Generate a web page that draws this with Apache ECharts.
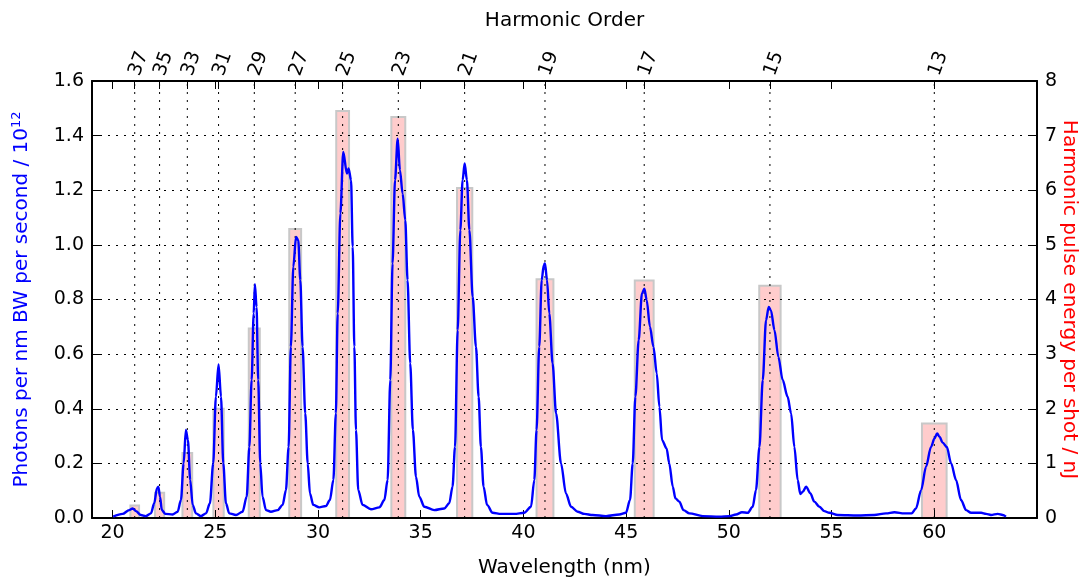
<!DOCTYPE html>
<html><head><meta charset="utf-8">
<script src="https://cdn.jsdelivr.net/npm/echarts@6/dist/echarts.min.js"></script>
<style>html,body{margin:0;padding:0;background:#fff}#c{width:1081px;height:578px}</style>
</head><body><div id="c"></div>
<script>
const wavelengthTicks = [20, 25, 30, 35, 40, 45, 50, 55, 60];
const harmonicOrders = [37, 35, 33, 31, 29, 27, 25, 23, 21, 19, 17, 15, 13];
const harmonicWavelengths = [21.08, 22.29, 23.64, 25.16, 26.90, 28.89, 31.20, 33.91, 37.14, 41.05, 45.88, 52.00, 60.00];
const pulseEnergy = [0.23, 0.46, 1.19, 2.0, 3.47, 5.29, 7.45, 7.34, 6.04, 4.37, 4.35, 4.25, 1.73];

const spectrumWavelength = [
20.03,20.49,20.81,20.98,21.14,21.38,21.62,21.87,22.03,22.16,22.23,22.31,22.40,22.57,22.92,23.17,23.33,23.46,23.57,23.67,
23.78,23.90,24.06,24.30,24.55,24.74,24.90,25.03,25.16,25.28,25.39,25.52,25.68,26.01,26.33,26.53,26.66,26.77,26.87,26.93,
27.01,27.09,27.19,27.30,27.47,27.71,28.04,28.28,28.44,28.57,28.68,28.80,28.93,29.04,29.14,29.25,29.38,29.50,29.61,29.77,
30.06,30.39,30.58,30.75,30.87,30.96,31.09,31.23,31.41,31.49,31.61,31.69,31.77,31.85,31.96,32.17,32.58,32.99,33.23,33.39,
33.52,33.63,33.75,33.88,33.99,34.12,34.25,34.36,34.49,34.62,34.77,34.93,35.18,35.66,36.15,36.39,36.55,36.67,36.80,36.93,
37.04,37.14,37.25,37.37,37.53,37.69,37.82,37.93,38.06,38.23,38.50,38.91,39.56,40.04,40.37,40.53,40.64,40.77,40.89,40.99,
41.05,41.15,41.26,41.42,41.59,41.83,42.07,42.32,42.64,42.97,43.37,44.02,44.67,44.99,45.19,45.32,45.45,45.61,45.77,45.89,
46.00,46.16,46.33,46.49,46.62,46.75,46.97,47.10,47.27,47.40,47.59,47.79,48.08,48.73,49.54,50.02,50.35,50.64,50.92,51.16,
51.32,51.49,51.65,51.81,51.94,52.05,52.22,52.41,52.62,52.86,53.03,53.19,53.35,53.48,53.60,53.76,53.97,54.16,54.41,54.65,
54.89,55.30,56.27,57.08,57.65,58.06,58.54,58.90,59.11,59.36,59.60,59.84,60.01,60.14,60.25,60.41,60.61,60.82,61.06,61.30,
61.55,61.79,62.28,62.52,62.76,63.09,63.33,63.49
];
const spectrumPhotons = [
0.005,0.015,0.029,0.035,0.025,0.011,0.007,0.017,0.054,0.108,0.115,0.078,0.029,0.015,0.013,0.023,0.066,0.200,0.322,0.285,
0.139,0.048,0.017,0.007,0.017,0.054,0.200,0.444,0.562,0.444,0.200,0.054,0.017,0.011,0.023,0.078,0.260,0.505,0.749,0.856,
0.773,0.505,0.200,0.078,0.029,0.023,0.029,0.048,0.102,0.260,0.627,0.920,1.029,1.017,0.871,0.627,0.383,0.200,0.090,0.048,
0.039,0.044,0.066,0.139,0.383,0.749,1.115,1.340,1.261,1.280,1.237,0.993,0.627,0.322,0.102,0.048,0.032,0.039,0.066,0.139,
0.505,0.932,1.237,1.389,1.273,1.188,1.090,0.871,0.566,0.322,0.151,0.078,0.041,0.029,0.035,0.054,0.115,0.260,0.688,1.054,
1.237,1.298,1.237,1.054,0.810,0.627,0.444,0.260,0.115,0.048,0.019,0.015,0.015,0.019,0.041,0.139,0.322,0.627,0.871,0.926,
0.932,0.871,0.749,0.566,0.383,0.200,0.090,0.041,0.023,0.015,0.011,0.007,0.013,0.019,0.066,0.200,0.444,0.651,0.822,0.840,
0.798,0.700,0.627,0.529,0.407,0.285,0.255,0.200,0.115,0.072,0.060,0.029,0.017,0.007,0.005,0.007,0.013,0.021,0.019,0.041,
0.102,0.260,0.505,0.724,0.773,0.760,0.688,0.590,0.505,0.444,0.383,0.260,0.139,0.088,0.096,0.115,0.090,0.060,0.041,0.025,
0.019,0.011,0.009,0.011,0.017,0.021,0.017,0.017,0.035,0.102,0.188,0.260,0.291,0.310,0.298,0.276,0.260,0.200,0.139,0.066,
0.029,0.019,0.019,0.015,0.011,0.015,0.011,0.005
];

const FONT = 'DejaVu Sans';
const chart = echarts.init(document.getElementById('c'), null, {renderer: 'canvas'});
const dotted = {color: '#000', width: 1, type: [2, 6]};

function harmonicLabel(v) {
  for (let i = 0; i < harmonicWavelengths.length; i++) {
    if (Math.abs(harmonicWavelengths[i] - v) < 1e-6) return String(harmonicOrders[i]);
  }
  return '';
}

chart.setOption({
  animation: false,
  textStyle: {fontFamily: FONT},
  grid: {left: 92, right: 44, top: 81, bottom: 60, containLabel: false, outerBoundsMode: 'none'},
  xAxis: [
    {
      type: 'value', position: 'bottom', min: 19, max: 65, z: 3,
      name: 'Wavelength (nm)', nameLocation: 'middle', nameGap: 40, nameMoveOverlap: false,
      nameTextStyle: {fontSize: 20, color: '#000', fontFamily: FONT},
      axisLine: {onZero: false, lineStyle: {color: '#000', width: 2}},
      axisTick: {inside: true, length: 8, customValues: wavelengthTicks, lineStyle: {color: '#000', width: 1}},
      axisLabel: {customValues: wavelengthTicks, fontSize: 19, color: '#000', margin: 6, fontFamily: FONT},
      splitLine: {show: false}
    },
    {
      type: 'value', position: 'top', min: 19, max: 65, z: 3,
      name: 'Harmonic Order', nameLocation: 'middle', nameGap: 50, nameMoveOverlap: false,
      nameTextStyle: {fontSize: 20, color: '#000', fontFamily: FONT},
      axisLine: {onZero: false, lineStyle: {color: '#000', width: 2}},
      axisTick: {inside: true, length: 8, customValues: wavelengthTicks.concat(harmonicWavelengths), lineStyle: {color: '#000', width: 1}},
      axisLabel: {customValues: harmonicWavelengths, rotate: -70, fontSize: 19, color: '#000', margin: 6, fontFamily: FONT,
        formatter: harmonicLabel},
      splitLine: {show: false}
    }
  ],
  yAxis: [
    {
      type: 'value', position: 'left', min: 0, max: 1.6, interval: 0.2, z: 3,
      name: '{a|Photons per nm BW per second / 10}{b|12}', nameLocation: 'middle', nameGap: 58, nameRotate: 90,
      nameMoveOverlap: false,
      nameTextStyle: {
        fontFamily: FONT,
        rich: {
          a: {fontSize: 20, color: '#0000ff', fontFamily: FONT, lineHeight: 24},
          b: {fontSize: 13, color: '#0000ff', fontFamily: FONT, verticalAlign: 'top', lineHeight: 14}
        }
      },
      axisLine: {onZero: false, lineStyle: {color: '#000', width: 2}},
      axisTick: {inside: true, length: 8, lineStyle: {color: '#000', width: 1}},
      axisLabel: {fontSize: 19, color: '#000', margin: 8, fontFamily: FONT, formatter: v => v.toFixed(1)},
      splitLine: {show: true, lineStyle: dotted}
    },
    {
      type: 'value', position: 'right', min: 0, max: 8, interval: 1, z: 3,
      name: 'Harmonic pulse energy per shot / nJ', nameLocation: 'middle', nameGap: 22, nameRotate: -90,
      nameMoveOverlap: false,
      nameTextStyle: {fontSize: 20, color: '#ff0000', fontFamily: FONT},
      axisLine: {onZero: false, lineStyle: {color: '#000', width: 2}},
      axisTick: {inside: true, length: 8, lineStyle: {color: '#000', width: 1}},
      axisLabel: {fontSize: 19, color: '#000', margin: 8, fontFamily: FONT},
      splitLine: {show: false}
    }
  ],
  series: [
    {
      type: 'custom', name: 'pulse energy', xAxisIndex: 0, yAxisIndex: 1, z: 1, silent: true,
      data: harmonicWavelengths.map((w, i) => [w, pulseEnergy[i]]),
      renderItem: function (params, api) {
        const x = api.value(0), h = api.value(1);
        const w = 0.02 * x;
        const p0 = api.coord([x - w / 2, h]);
        const p1 = api.coord([x + w / 2, 0]);
        return {type: 'rect', shape: {x: p0[0], y: p0[1], width: p1[0] - p0[0], height: p1[1] - p0[1]},
          style: {fill: '#ffcccc', stroke: '#c8c8c8', lineWidth: 2}};
      }
    },
    {
      type: 'custom', name: 'harmonic grid', xAxisIndex: 0, yAxisIndex: 0, z: 3, silent: true,
      data: harmonicWavelengths.map(w => [w]),
      renderItem: function (params, api) {
        const x = api.value(0);
        const a = api.coord([x, 0]);
        const b = api.coord([x, 1.6]);
        return {type: 'line', shape: {x1: a[0], y1: a[1], x2: b[0], y2: b[1]},
          style: {stroke: '#000', lineWidth: 1, lineDash: [2, 6]}};
      }
    },
    {
      type: 'line', name: 'photons', xAxisIndex: 0, yAxisIndex: 0, z: 5,
      data: spectrumWavelength.map((w, i) => [w, spectrumPhotons[i]]),
      showSymbol: false, smooth: 0.3, smoothMonotone: 'x',
      lineStyle: {color: '#0000ff', width: 2.4}
    }
  ]
});
</script>
</body></html>
